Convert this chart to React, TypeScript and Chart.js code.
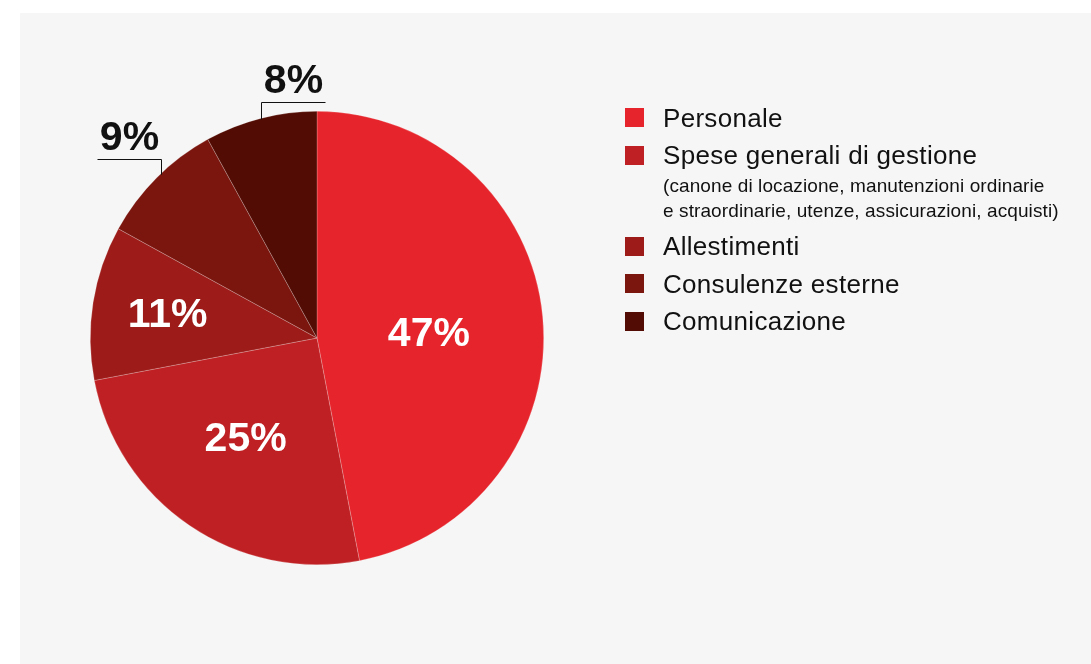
import React, { useEffect, useRef } from "react";
import { Chart, registerables } from "chart.js";

Chart.register(...registerables);

// ---- data ----
const categories = [
  "Personale",
  "Spese generali di gestione",
  "Allestimenti",
  "Consulenze esterne",
  "Comunicazione",
];
const categoryNotes = [
  [],
  [
    "(canone di locazione, manutenzioni ordinarie",
    "e straordinarie, utenze, assicurazioni, acquisti)",
  ],
  [],
  [],
  [],
];
const shares = [47, 25, 11, 9, 8];
const percentLabels = ["47%", "25%", "11%", "9%", "8%"];
const sliceColors = ["#e6242b", "#bf2023", "#9d1c19", "#7b160f", "#530c03"];

// ---- label placement (style, not data) ----
const labelPlacement = [
  { mode: "inside", frac: 0.4956, dy: 7.5 },
  { mode: "inside", frac: 0.56, dy: -3 },
  { mode: "inside", frac: 0.667, dy: 1.2 },
  { mode: "outside", dx: 4, rise: 15, len: 64, dir: -1 },
  { mode: "outside", dx: 0, rise: 16.4, len: 64, dir: 1 },
];

const FONT = '"Liberation Sans", Arial, Helvetica, sans-serif';

const sliceLabelPlugin = {
  id: "sliceLabels",
  afterDatasetsDraw(chart: any) {
    const ctx = chart.ctx;
    const meta = chart.getDatasetMeta(0);
    ctx.save();
    ctx.font = `bold 41px ${FONT}`;
    ctx.textAlign = "center";
    ctx.textBaseline = "middle";
    meta.data.forEach((el: any, i: number) => {
      const p = el.getProps(["x", "y", "startAngle", "endAngle", "outerRadius"], true);
      const mid = (p.startAngle + p.endAngle) / 2;
      const cfg: any = labelPlacement[i];
      const text = percentLabels[i];
      if (cfg.mode === "inside") {
        const r = p.outerRadius * cfg.frac;
        const x = p.x + Math.cos(mid) * r;
        const y = p.y + Math.sin(mid) * r + cfg.dy;
        ctx.fillStyle = "#ffffff";
        ctx.fillText(text, x, y);
      } else {
        const R = p.outerRadius;
        const ax = p.x + Math.cos(mid) * R + cfg.dx;
        const dxc = ax - p.x;
        const edgeY = p.y - Math.sqrt(Math.max(R * R - dxc * dxc, 0));
        const lineY = edgeY - cfg.rise;
        const x0 = Math.round(ax) + 0.5;
        const ly = Math.round(lineY) + 0.5;
        const x1 = x0 + cfg.dir * cfg.len;
        ctx.strokeStyle = "#111111";
        ctx.lineWidth = 1;
        ctx.beginPath();
        ctx.moveTo(x0, edgeY + 1);
        ctx.lineTo(x0, ly);
        ctx.lineTo(x1, ly);
        ctx.stroke();
        ctx.fillStyle = "#111111";
        ctx.fillText(text, (x0 + x1) / 2, ly - 20.5);
      }
    });
    ctx.restore();
  },
};

function PieChart() {
  const ref = useRef<HTMLCanvasElement | null>(null);
  useEffect(() => {
    if (!ref.current) return;
    const chart = new Chart(ref.current, {
      type: "pie",
      data: {
        labels: categories,
        datasets: [
          {
            data: shares,
            backgroundColor: sliceColors,
            borderColor: "rgba(255,255,255,0.35)",
            borderWidth: 0.6,
          },
        ],
      },
      options: {
        responsive: false,
        animation: false,
        layout: { padding: { left: 90, right: 547, top: 111, bottom: 99 } },
        plugins: {
          legend: { display: false },
          tooltip: { enabled: false },
        },
      },
      plugins: [sliceLabelPlugin],
    });
    return () => chart.destroy();
  }, []);
  return (
    <canvas
      ref={ref}
      width={1091}
      height={664}
      style={{ position: "absolute", left: 0, top: 0, width: 1091, height: 664 }}
    />
  );
}

function Legend() {
  const base = 126.7;
  const gap = 37.3;
  const noteGap = 54.2;
  return (
    <>
      {categories.map((name, i) => {
        const baseline = base + i * gap + (i >= 2 ? noteGap : 0);
        return (
          <React.Fragment key={name}>
            <div
              style={{
                position: "absolute",
                left: 625,
                top: baseline - 18.5,
                width: 19,
                height: 19,
                background: sliceColors[i],
              }}
            />
            <div
              style={{
                position: "absolute",
                left: 663,
                top: baseline - 0.8465 * 26,
                font: `26px/1 ${FONT}`,
                letterSpacing: "0.3px",
                color: "#111",
                whiteSpace: "nowrap",
              }}
            >
              {name}
            </div>
            {categoryNotes[i].map((note, j) => (
              <div
                key={j}
                style={{
                  position: "absolute",
                  left: 663,
                  top: baseline + 28.4 + j * 25 - 0.8465 * 19,
                  font: `19px/1 ${FONT}`,
                  letterSpacing: "0.1px",
                  color: "#111",
                  whiteSpace: "nowrap",
                }}
              >
                {note}
              </div>
            ))}
          </React.Fragment>
        );
      })}
    </>
  );
}

export default function App() {
  return (
    <div
      style={{
        position: "absolute",
        left: 0,
        top: 0,
        width: 1091,
        height: 664,
        background: "#ffffff",
        overflow: "hidden",
      }}
    >
      <div
        style={{
          position: "absolute",
          left: 20,
          top: 13,
          width: 1071,
          height: 651,
          background: "#f6f6f6",
        }}
      />
      <PieChart />
      <Legend />
    </div>
  );
}
